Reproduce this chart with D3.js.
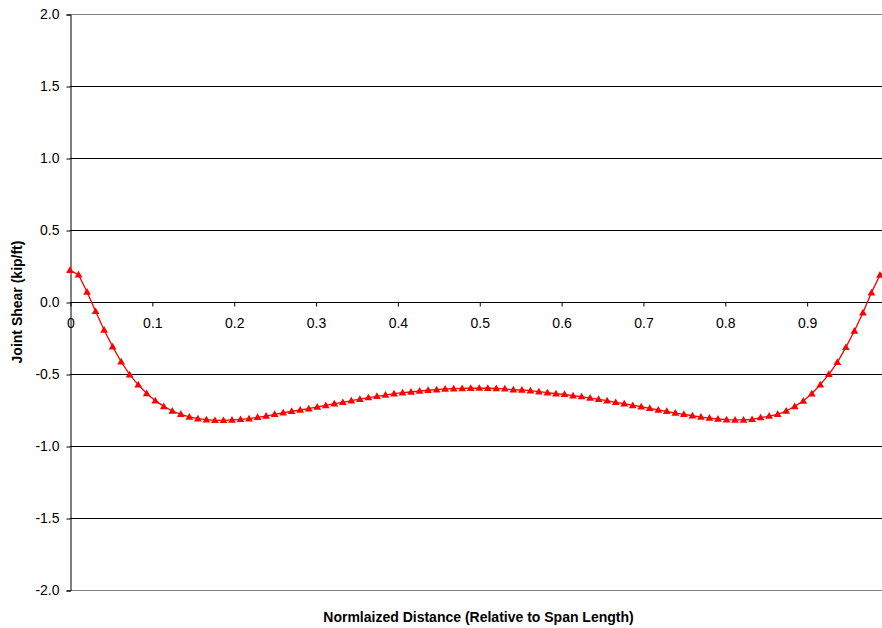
<!DOCTYPE html>
<html>
<head>
<meta charset="UTF-8">
<script src="https://d3js.org/d3.v7.min.js"></script>
<style>
    body { margin: 0; background: #fff; }
    svg { display: block; font-family: Arial, "Liberation Sans", sans-serif; }
    .tick text { font-size: 14px; fill: #000; }
    .title { font-size: 14px; font-weight: bold; }
</style>
</head>
<body>
<svg id="chart" width="882" height="628"></svg>
<script>
// joint shear along the span, 97 equally spaced stations (0 .. 1)
var shear = [
    0.22, 0.19, 0.07, -0.065, -0.195, -0.31, -0.415, -0.505, -0.575, -0.635,
    -0.685, -0.725, -0.757, -0.78, -0.798, -0.81, -0.817, -0.822, -0.822, -0.819,
    -0.815, -0.81, -0.801, -0.792, -0.78, -0.769, -0.759, -0.75, -0.741, -0.729,
    -0.718, -0.706, -0.697, -0.685, -0.675, -0.664, -0.655, -0.646, -0.637, -0.63,
    -0.625, -0.618, -0.613, -0.609, -0.604, -0.602, -0.6, -0.599, -0.598, -0.599,
    -0.6, -0.603, -0.61, -0.611, -0.616, -0.623, -0.63, -0.637, -0.641, -0.651,
    -0.657, -0.667, -0.676, -0.685, -0.697, -0.706, -0.718, -0.727, -0.738, -0.75,
    -0.759, -0.771, -0.78, -0.79, -0.799, -0.806, -0.8125, -0.817, -0.819, -0.819,
    -0.815, -0.803, -0.792, -0.78, -0.757, -0.725, -0.6875, -0.637, -0.574, -0.502,
    -0.419, -0.315, -0.201, -0.074, 0.065, 0.1875, 0.22
];
var xTicks = [0, 0.1, 0.2, 0.3, 0.4, 0.5, 0.6, 0.7, 0.8, 0.9];
var yTicks = [-2, -1.5, -1, -0.5, 0, 0.5, 1, 1.5, 2];

var pts = shear.map(function(v, i){ return {x: i / (shear.length - 1), y: v}; });

var svg = d3.select('#chart');
var plotLeft = 70, plotRight = 888.5, plotTop = 14, plotBottom = 590;

var x = d3.scaleLinear().domain([0, 1]).range([plotLeft, plotRight]);
var y = d3.scaleLinear().domain([-2, 2]).range([plotBottom, plotTop]);

// grid lines
svg.append('g')
    .selectAll('line')
    .data(yTicks)
    .join('line')
    .attr('x1', plotLeft).attr('x2', plotRight)
    .attr('y1', function(d){ return y(d) + 0.5; })
    .attr('y2', function(d){ return y(d) + 0.5; })
    .attr('stroke', function(d){ return (d === 2 || d === -2) ? '#808080' : '#000'; })
    .attr('stroke-width', 1);

// y axis (plain hyphen minus like the original)
var yAxis = svg.append('g')
    .attr('transform', 'translate(' + (plotLeft + 0.5) + ',0.5)')
    .call(d3.axisLeft(y).tickValues(yTicks).tickFormat(function(d){ return d.toFixed(1); }).tickSize(4).tickPadding(7));
yAxis.select('.domain').attr('stroke', '#000');
yAxis.selectAll('.tick line').attr('stroke', '#000');

// x axis crossing at zero
var xAxis = svg.append('g')
    .attr('transform', 'translate(0.5,' + (y(0) + 0.5) + ')')
    .call(d3.axisBottom(x).tickValues(xTicks).tickFormat(function(d){ return d === 0 ? '0' : d.toFixed(1); }).tickSize(4).tickPadding(12));
xAxis.select('.domain').remove();
xAxis.selectAll('.tick line').attr('stroke', '#000');

// curve
var line = d3.line()
    .x(function(d){ return x(d.x); })
    .y(function(d){ return y(d.y); });

svg.append('path')
    .datum(pts)
    .attr('d', line)
    .attr('fill', 'none')
    .attr('stroke', '#ff0000')
    .attr('stroke-width', 1.3);

svg.append('g')
    .selectAll('path')
    .data(pts)
    .join('path')
    .attr('transform', function(d){ return 'translate(' + x(d.x) + ',' + (y(d.y) + 0.5) + ')'; })
    .attr('d', d3.symbol().type(d3.symbolTriangle).size(26))
    .attr('fill', '#ff0000');

// titles
svg.append('text')
    .attr('class', 'title')
    .attr('x', 478.5).attr('y', 622)
    .attr('text-anchor', 'middle')
    .text('Normlaized Distance (Relative to Span Length)');

svg.append('text')
    .attr('class', 'title')
    .attr('transform', 'translate(22,302) rotate(-90)')
    .attr('text-anchor', 'middle')
    .text('Joint Shear (kip/ft)');
</script>
</body>
</html>
